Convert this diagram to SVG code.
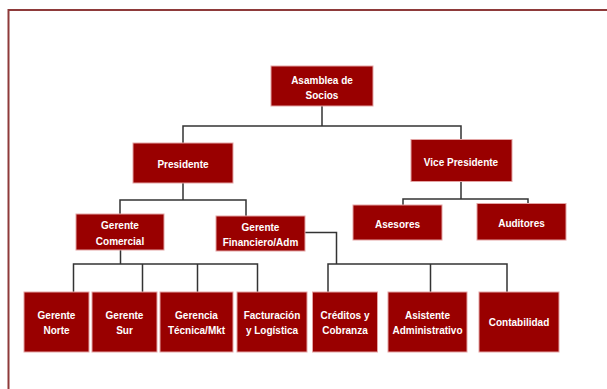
<svg xmlns="http://www.w3.org/2000/svg" width="607" height="389" viewBox="0 0 607 389">
<style>
.box{fill:#990000;stroke:#e3a3a3;stroke-width:1}
.t{font-family:"Liberation Sans",Arial,sans-serif;font-weight:bold;font-size:10px;fill:#ffffff;text-anchor:middle}
.c{fill:none;stroke:#333333;stroke-width:1.5}
</style>
<rect x="0" y="0" width="607" height="389" fill="#ffffff"/>
<path d="M8.5,389 V10 H607" fill="none" stroke="#8e3a3a" stroke-width="2"/>
<g id="connectors">
<path class="c" d="M322,106 V126 M183,143 V126 H461 V139.5"/>
<path class="c" d="M183,183 V200 M120,214 V200 H246 V216"/>
<path class="c" d="M461,182 V199 M403,205 V199 H528 V203.5"/>
<path class="c" d="M120.5,250 V264 M73.5,292 V264 H257.5 V292 M142.5,264 V292 M197.5,264 V292"/>
<path class="c" d="M305,232.5 H336.5 V264 M328,292 V264 H507 V292 M430.5,264 V292"/>
</g>
<g id="asamblea"><rect class="box" x="271" y="66" width="102" height="40"/><text class="t" x="322" y="84">Asamblea de</text><text class="t" x="322" y="99">Socios</text></g>
<g id="presidente"><rect class="box" x="133" y="143" width="100" height="40"/><text class="t" x="183" y="167.5">Presidente</text></g>
<g id="vicepresidente"><rect class="box" x="411" y="139.5" width="101" height="42"/><text class="t" x="461" y="165.5">Vice Presidente</text></g>
<g id="gerente-comercial"><rect class="box" x="76" y="214" width="88" height="36"/><text class="t" x="120" y="229">Gerente</text><text class="t" x="120" y="245">Comercial</text></g>
<g id="gerente-financiero"><rect class="box" x="216" y="216" width="89" height="35"/><text class="t" x="260.5" y="231">Gerente</text><text class="t" x="260.5" y="246">Financiero/Adm</text></g>
<g id="asesores"><rect class="box" x="353" y="205" width="89" height="35"/><text class="t" x="397.5" y="228">Asesores</text></g>
<g id="auditores"><rect class="box" x="477" y="203.5" width="89" height="36.5"/><text class="t" x="521.5" y="226.5">Auditores</text></g>
<g id="gerente-norte"><rect class="box" x="24" y="292" width="65" height="60"/><text class="t" x="56.5" y="319">Gerente</text><text class="t" x="56.5" y="334">Norte</text></g>
<g id="gerente-sur"><rect class="box" x="92" y="292" width="65" height="60"/><text class="t" x="124.5" y="319">Gerente</text><text class="t" x="124.5" y="334">Sur</text></g>
<g id="gerencia-tecnica"><rect class="box" x="160" y="292" width="73" height="60"/><text class="t" x="196.5" y="319">Gerencia</text><text class="t" x="196.5" y="334">Técnica/Mkt</text></g>
<g id="facturacion"><rect class="box" x="237" y="292" width="70" height="60"/><text class="t" x="272" y="319">Facturación</text><text class="t" x="272" y="334">y Logística</text></g>
<g id="creditos"><rect class="box" x="312.5" y="292" width="65" height="60"/><text class="t" x="345" y="319">Créditos y</text><text class="t" x="345" y="334">Cobranza</text></g>
<g id="asistente"><rect class="box" x="388" y="292" width="79" height="60"/><text class="t" x="427.5" y="319">Asistente</text><text class="t" x="427.5" y="334">Administrativo</text></g>
<g id="contabilidad"><rect class="box" x="479" y="292" width="80" height="60"/><text class="t" x="519" y="326">Contabilidad</text></g>
</svg>
